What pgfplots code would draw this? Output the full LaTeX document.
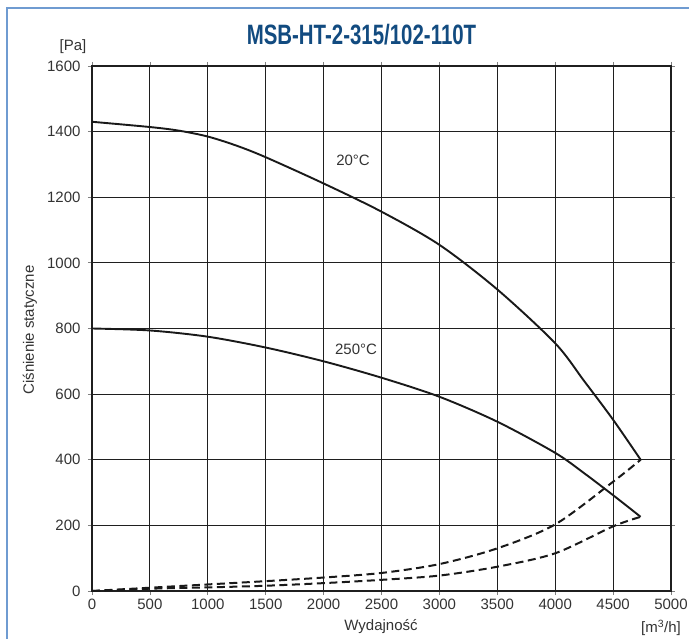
\documentclass[border=0pt]{standalone}
\usepackage{fontspec}
\setmainfont{Liberation Sans}
\newfontfamily\titlefont[FakeStretch=0.73]{Liberation Sans}
\usepackage{pgfplots}
\pgfplotsset{compat=1.18}
\definecolor{frameblue}{HTML}{6F9BD1}
\definecolor{titleblue}{HTML}{124B80}
\definecolor{txt}{HTML}{333333}
\begin{document}
\begin{tikzpicture}
\path[use as bounding box] (0pt,0pt) rectangle (689pt,-639pt);
\draw[frameblue, line width=1.5pt] (7pt,-639pt) -- (7pt,-8pt) -- (689pt,-8pt);
\begin{axis}[
  at={(92pt,-591pt)}, anchor=south west,
  width=579pt, height=525pt, scale only axis,
  xmin=0, xmax=5000, ymin=0, ymax=1600,
  xtick={0,500,...,5000}, ytick={0,200,...,1600},
  grid=major,
  major grid style={line width=1pt, black!88},
  axis line style={line width=1.5pt, black!88},
  tick align=outside, major tick length=4pt,
  tick style={gray, line width=0.8pt},
  ticklabel style={font=\fontsize{15}{18}\selectfont, text=txt},
  /pgf/number format/assume math mode=true,
  /pgf/number format/1000 sep={},
  yticklabel style={xshift=-4pt},
]
% 20 C fan curve
\addplot[black!90, line width=1.9pt, smooth, tension=0.5] coordinates {
  (0,1430) (500,1414) (750,1403) (1000,1385) (1250,1357) (1500,1322) (2000,1242)
  (2500,1156) (3000,1055) (3500,919) (4000,755) (4250,640) (4500,522) (4738,400)};
% 250 C fan curve
\addplot[black!90, line width=1.9pt, smooth, tension=0.5] coordinates {
  (0,800) (500,794) (1000,775) (1500,742) (2000,700) (2500,650)
  (3000,592) (3500,516) (4000,421) (4250,359) (4500,292) (4738,226)};
% system curves
\addplot[black!90, line width=2pt, dash pattern=on 8pt off 4.5pt, smooth, tension=0.5] coordinates {
  (0,0) (500,10) (1000,20) (1500,30) (2000,41) (2500,55) (3000,82)
  (3500,130) (4000,203) (4500,333) (4738,400)};
\addplot[black!90, line width=2pt, dash pattern=on 8pt off 4.5pt, smooth, tension=0.5] coordinates {
  (0,0) (500,7) (1000,11) (1500,16) (2000,24) (2500,34) (3000,47)
  (3500,74) (4000,115) (4500,197) (4738,226)};
\node[font=\fontsize{15}{18}\selectfont, text=txt] at (axis cs:2254,1313) {20°C};
\node[font=\fontsize{15}{18}\selectfont, text=txt] at (axis cs:2280,737) {250°C};
\end{axis}
\node[font=\titlefont\bfseries\fontsize{28}{32}\selectfont, text=titleblue] at (361.5pt,-35pt) {MSB-HT-2-315/102-110T};
\node[font=\fontsize{15}{18}\selectfont, text=txt] at (73pt,-47pt) {[Pa]};
\node[font=\fontsize{15}{18}\selectfont, text=txt, rotate=90] at (30pt,-330pt) {Ciśnienie statyczne};
\node[font=\fontsize{15}{18}\selectfont, text=txt] at (381pt,-627pt) {Wydajność};
\node[font=\fontsize{15}{18}\selectfont, text=txt] at (661pt,-628pt) {[m\textsuperscript{3}/h]};
\end{tikzpicture}
\end{document}
